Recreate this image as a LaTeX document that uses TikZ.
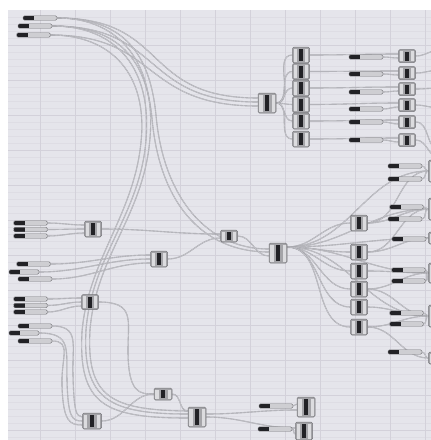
\documentclass[tikz,border=0pt]{standalone}
\usepackage{xcolor}
\usepackage{tikz}
\usetikzlibrary{backgrounds}
\definecolor{GHCanvas}{HTML}{E5E5EB}
\definecolor{GHGrid}{HTML}{DEDDE4}
\definecolor{GHGridMajor}{HTML}{D3D1DA}
\definecolor{GHWire}{HTML}{A2A2A8}
\definecolor{GHWireCore}{HTML}{D6D6DB}
\definecolor{GHBody}{HTML}{A4A4A8}
\definecolor{GHEdge}{HTML}{76767A}
\definecolor{GHTab}{HTML}{DCDCDF}
\definecolor{GHDark}{HTML}{222226}
\definecolor{GHSlider}{HTML}{CECED2}

\begin{document}
\begin{tikzpicture}[x=1pt, y=-1pt,
  comp/.style={draw=GHEdge, line width=0.5pt, fill=GHBody, rounded corners=1.5pt, inner sep=0pt, minimum width=17pt, minimum height=16pt,
    path picture={
      \fill[GHTab, sharp corners] ([xshift=1.2pt,yshift=1.5pt]path picture bounding box.south west) rectangle ([xshift=4.5pt,yshift=-1.5pt]path picture bounding box.north west);
      \fill[GHTab, sharp corners] ([xshift=-1.2pt,yshift=1.5pt]path picture bounding box.south east) rectangle ([xshift=-4.5pt,yshift=-1.5pt]path picture bounding box.north east);
      \fill[GHDark, sharp corners] ([xshift=-2pt,yshift=2pt]path picture bounding box.south) rectangle ([xshift=2pt,yshift=-2pt]path picture bounding box.north);
    }},
  tallcomp/.style={comp, minimum height=20pt, minimum width=18pt},
  flatcomp/.style={comp, minimum height=12pt},
  slider/.style={draw=GHEdge, line width=0.4pt, fill=GHSlider, rounded corners=1.5pt, inner sep=0pt, minimum width=34pt, minimum height=4.5pt,
    path picture={\fill[GHDark, sharp corners] (path picture bounding box.south west) rectangle ([xshift=11pt]path picture bounding box.north west);}},
  shortslider/.style={slider, minimum width=30pt},
  wire/.style={draw=GHWire, line width=0.4pt, double=GHWireCore, double distance=0.3pt},
]
\useasboundingbox (0,0) rectangle (431,440);
\begin{scope}[on background layer]
  \fill[white] (0,0) rectangle (431,440);
  \fill[GHCanvas] (8,10) rectangle (431,440);
  \foreach \gy in {17,24,...,440}
    \draw[GHGrid, line width=0.3pt] (8,\gy) -- (431,\gy);
  \foreach \gy in {45,80,...,440}
    \draw[GHGridMajor, line width=0.4pt] (8,\gy) -- (431,\gy);
  \foreach \gx in {40,75,...,430}
    \draw[GHGridMajor, line width=0.6pt] (\gx,10) -- (\gx,440);
\end{scope}

% top left sliders
\node[slider] (tl1) at (40,18) {};
\node[slider] (tl2) at (35,26) {};
\node[slider] (tl3) at (33.5,35) {};

% upper group
\node[tallcomp] (ctop) at (267,103) {};
\foreach \i/\y in {1/55,2/71.5,3/88,4/104.5,5/121,6/139}
  \node[comp] (col\i) at (301,\y) {};
\foreach \i/\y in {1/57,2/74,3/92,4/109,5/122,6/140}
  \node[slider] (ms\i) at (366,\y) {};
\foreach \i/\y in {1/56,2/73,3/89,4/105,5/122,6/140}
  \node[comp, minimum height=13pt] (rc\i) at (407,\y) {};

% middle group
\node[flatcomp] (sc) at (229,236) {};
\node[tallcomp] (hub) at (278,253) {};
\foreach \i/\y in {1/223,2/252,3/271,4/289,5/307,6/327}
  \node[comp] (k\i) at (359,\y) {};
\foreach \i/\x/\y in {1/405/166,2/405/179,3/406.5/207,4/405/219,5/409/239,6/408.5/270,7/408.5/281,8/406.5/313,9/406.5/324,10/405/352}
  \node[slider] (rs\i) at (\x,\y) {};
\foreach \i/\y/\h in {1/171/22,2/209/22,3/238/12,4/273/20,5/316/22,6/358/12}
  \node[comp, minimum height=\h pt] (e\i) at (437,\y) {};

% left groups
\foreach \i/\y in {1/223,2/229.5,3/236}
  \node[slider] (a\i) at (30.5,\y) {};
\node[comp] (ca) at (93,229) {};
\node[slider] (b1) at (33.5,264) {};
\node[shortslider] (b2) at (24,272) {};
\node[slider] (b3) at (35,279) {};
\node[comp] (cb) at (159,259) {};
\foreach \i/\y in {1/299,2/305.5,3/312}
  \node[slider] (c\i) at (30.5,\y) {};
\node[comp, minimum height=15pt] (cc) at (90,302) {};
\node[slider] (d1) at (35,326) {};
\node[shortslider] (d2) at (24,333) {};
\node[slider] (d3) at (35,341) {};

% bottom group
\node[comp, minimum width=19pt] (cd) at (92,421) {};
\node[flatcomp, minimum width=18pt] (ce) at (163,394) {};
\node[tallcomp] (cf) at (197,417) {};
\node[slider] (bs1) at (276,406) {};
\node[slider] (bs2) at (275,429) {};
\node[tallcomp] (cg) at (306,407) {};
\node[comp, minimum height=18pt] (ch) at (304,431) {};

\foreach \i/\y in {1/50,2/70,3/88,4/108,5/150,6/158}
  \coordinate (off\i) at (440,\y);

\begin{scope}[on background layer]
% top left bundle
\draw[wire] (tl1.east) .. controls (170,18) and (140,98) .. ([yshift=5pt]ctop.west);
\draw[wire] (tl2.east) .. controls (165,26) and (140,102) .. ([yshift=1pt]ctop.west);
\draw[wire] (tl3.east) .. controls (160,35) and (140,106) .. ([yshift=-3pt]ctop.west);
\draw[wire] (tl1.east) .. controls (125,18) and (150,55) .. (156,115) .. controls (163,195) and (205,249) .. ([yshift=4pt]hub.west);
\draw[wire] (tl2.east) .. controls (120,26) and (146,60) .. (152,118) .. controls (159,200) and (200,252) .. ([yshift=1pt]hub.west);
\draw[wire] (tl1.east) .. controls (122,18) and (156,66) .. (150,138) .. controls (144,215) and (96,255) .. (90,330) .. controls (86,398) and (112,410) .. ([yshift=6pt]cf.west);
\draw[wire] (tl2.east) .. controls (118,26) and (152,70) .. (146,140) .. controls (140,215) and (92,255) .. (86,330) .. controls (82,400) and (110,414) .. ([yshift=3pt]cf.west);
\draw[wire] (tl3.east) .. controls (112,35) and (148,75) .. (141,142) .. controls (134,215) and (88,260) .. (82,332) .. controls (78,405) and (105,418) .. ([yshift=-1pt]cf.west);

% upper group
\foreach \i in {1,...,6}
  \draw[wire] (ctop.east) to[out=0,in=180] (col\i.west);
\foreach \i in {1,...,6}
  \draw[wire] (col\i.east) to[out=0,in=180] ([yshift=2pt]rc\i.west);
\foreach \i in {1,...,6}
  \draw[wire] (ms\i.east) to[out=0,in=180] ([yshift=-2pt]rc\i.west);
\foreach \i in {1,...,6}
  \draw[wire] (rc\i.east) to[out=0,in=180] (off\i);

% left groups
\foreach \i/\s in {1/4,2/0,3/-4}
  \draw[wire] (a\i.east) to[out=0,in=180] ([yshift=\s pt]ca.west);
\foreach \i/\s in {1/4,2/0,3/-4}
  \draw[wire] (b\i.east) to[out=0,in=180] ([yshift=\s pt]cb.west);
\foreach \i/\s in {1/4,2/0,3/-4}
  \draw[wire] (c\i.east) to[out=0,in=180] ([yshift=\s pt]cc.west);
\draw[wire] (ca.east) to[out=0,in=180] ([yshift=2pt]sc.west);
\draw[wire] (cb.east) to[out=0,in=180] ([yshift=-2pt]sc.west);
\draw[wire] (sc.east) to[out=0,in=180] ([yshift=-3pt]hub.west);
\draw[wire] (cc.east) .. controls (135,302) and (128,320) .. (128,350) .. controls (128,394) and (140,394) .. (ce.west);
\draw[wire] (d1.east) .. controls (80,326) and (72,345) .. (73,375) .. controls (74,412) and (76,416) .. ([yshift=4pt]cd.west);
\draw[wire] (d2.east) .. controls (72,333) and (66,350) .. (67,380) .. controls (68,418) and (72,421) .. (cd.west);
\draw[wire] (d3.east) .. controls (72,341) and (61,358) .. (62,385) .. controls (63,422) and (70,425) .. ([yshift=-4pt]cd.west);

% bottom group
\draw[wire] (cd.east) to[out=0,in=180] (ce.west);
\draw[wire] (ce.east) to[out=0,in=180] ([yshift=6pt]cf.west);
\draw[wire] ([yshift=3pt]cf.east) to[out=0,in=180] ([yshift=-3pt]cg.west);
\draw[wire] (cf.east) to[out=0,in=180] ([yshift=3pt]ch.west);
\draw[wire] (bs1.east) to[out=0,in=180] ([yshift=3pt]cg.west);
\draw[wire] (bs2.east) to[out=0,in=180] ([yshift=-3pt]ch.west);

% middle fan
\foreach \i in {1,...,6}
  \draw[wire] ([yshift=6pt]hub.east) to[out=0,in=180] (k\i.west);
\foreach \j in {1,...,5}
  \draw[wire] ([yshift=6pt]hub.east) to[out=0,in=180] (e\j.west);
\foreach \k/\j in {1/1,1/2,2/2,2/3,3/4,4/4,4/5,5/5,6/5,6/6}
  \draw[wire] (k\k.east) to[out=0,in=180] (e\j.west);
\foreach \r/\j in {1/1,2/1,3/2,4/2,5/3,6/4,7/4,8/5,9/5,10/6}
  \draw[wire] (rs\r.east) to[out=0,in=180] (e\j.west);
\end{scope}
\end{tikzpicture}
\end{document}
